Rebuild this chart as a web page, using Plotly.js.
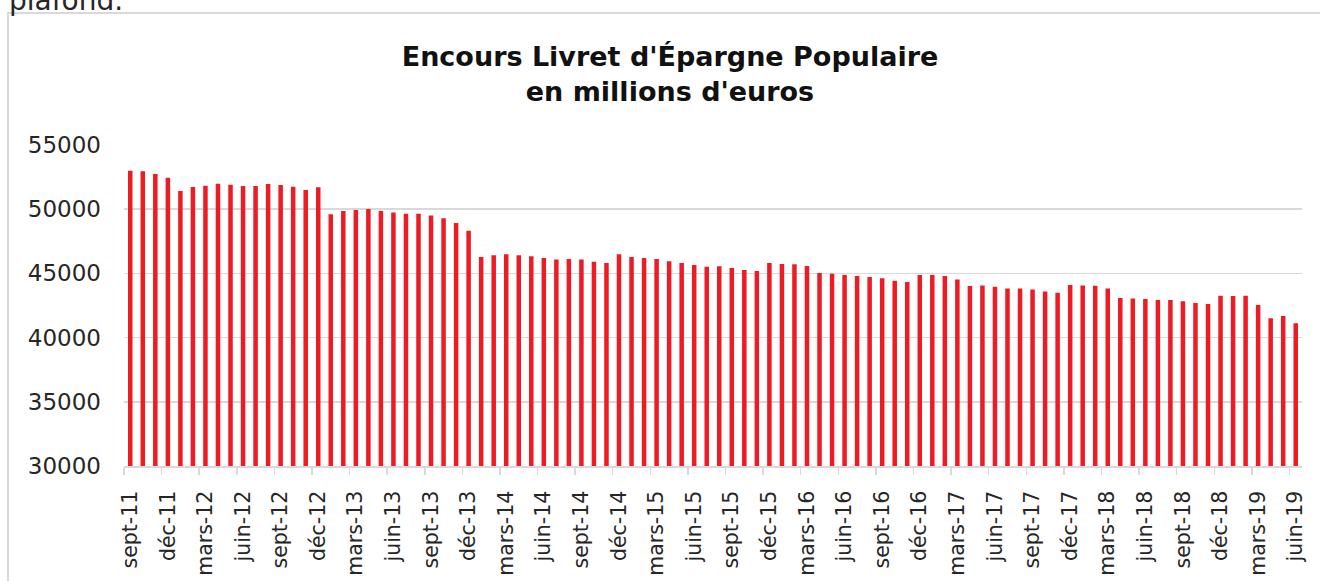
<!DOCTYPE html>
<html>
<head>
<meta charset="utf-8">
<script src="https://cdn.plot.ly/plotly-3.0.1.min.js"></script>
<style>
  html, body { margin: 0; padding: 0; background: #ffffff; }
  #wrap { position: relative; width: 1320px; height: 581px; overflow: hidden; }
  #frame { position: absolute; left: 7px; top: 12px; width: 1400px; height: 700px;
           border-left: 2px solid #d9d9d9; border-top: 2px solid #d9d9d9; }
  #chart { position: absolute; left: 0; top: 0; width: 1320px; height: 581px; }
</style>
</head>
<body>
<div id="wrap">
  <div id="frame"></div>
  <div id="chart"></div>
</div>
<script>
// Month abbreviations (French, Excel style) and years covered
const monthNames = ["janv", "févr", "mars", "avr", "mai", "juin", "juil", "août", "sept", "oct", "nov", "déc"];
const startMonth = 8;   // sept
const startYear = 2011;
const nMonths = 94;     // sept-11 .. juin-19

// Encours LEP, millions d'euros
const encours = [
  53000, 52950, 52740, 52450,
  51420, 51730, 51830, 51990, 51910, 51800, 51800, 51960, 51880, 51750, 51500, 51700,
  49600, 49860, 49940, 50010, 49860, 49750, 49650, 49650, 49500, 49290, 48920, 48330,
  46280, 46410, 46490, 46410, 46330, 46200, 46090, 46120, 46090, 45910, 45810, 46490,
  46280, 46200, 46120, 45940, 45810, 45650, 45520, 45550, 45420, 45260, 45180, 45810,
  45730, 45710, 45570, 45030, 44970, 44870, 44790, 44710, 44620, 44430, 44330, 44870,
  44870, 44790, 44530, 44010, 44060, 43960, 43830, 43830, 43750, 43590, 43490, 44090,
  44060, 44040, 43830, 43080, 43050, 43000, 42920, 42920, 42840, 42690, 42610, 43260,
  43240, 43260, 42530, 41500, 41680, 41110
];

const categories = [];
for (let i = 0; i < nMonths; i++) {
  const m = (startMonth + i) % 12;
  const y = startYear + Math.floor((startMonth + i) / 12);
  categories.push(monthNames[m] + "-" + String(y).slice(2));
}

const yTicks = [30000, 35000, 40000, 45000, 50000, 55000];

const trace = {
  type: "bar",
  x: categories,
  y: encours,
  marker: { color: "#ed1c24" },
  hoverinfo: "x+y"
};

const layout = {
  width: 1320,
  height: 581,
  margin: { l: 124, r: 18, t: 145, b: 115 },
  paper_bgcolor: "rgba(0,0,0,0)",
  plot_bgcolor: "rgba(0,0,0,0)",
  bargap: 0.64,
  showlegend: false,
  font: { family: "DejaVu Sans, sans-serif", color: "#262626" },
  title: {
    text: "Encours Livret d'Épargne Populaire<br>en millions d'euros",
    font: { family: "DejaVu Sans, sans-serif", size: 27, color: "#111111", weight: "bold" },
    xref: "container", x: 670 / 1320, xanchor: "center",
    yref: "container", y: 1 - 66 / 581, yanchor: "top"
  },
  xaxis: {
    type: "category",
    tickmode: "linear",
    tick0: 0,
    dtick: 3,
    tickson: "boundaries",
    ticks: "outside",
    ticklen: 7,
    tickwidth: 1.5,
    tickcolor: "#d9d9d9",
    showline: true,
    linecolor: "#d9d9d9",
    linewidth: 1.5,
    showgrid: false,
    tickangle: -90,
    tickfont: { size: 20.5, color: "#262626" },
    ticklabelstandoff: 15
  },
  yaxis: {
    range: [30000, 55000],
    tickmode: "array",
    tickvals: yTicks,
    ticktext: yTicks.map(v => String(v)),
    showgrid: true,
    gridcolor: "#d9d9d9",
    gridwidth: 1.5,
    zeroline: false,
    showline: false,
    ticks: "",
    tickfont: { size: 23, color: "#262626" },
    ticklabelstandoff: 22
  },
  annotations: [{
    text: "plafond.",
    xref: "paper", yref: "paper",
    x: (7 - 124) / 1178, y: (466 - 19) / 321,
    xanchor: "left", yanchor: "bottom",
    showarrow: false,
    font: { family: "DejaVu Sans, sans-serif", size: 28, color: "#262626" }
  }]
};

Plotly.newPlot("chart", [trace], layout, { displayModeBar: false, staticPlot: true });
</script>
</body>
</html>
